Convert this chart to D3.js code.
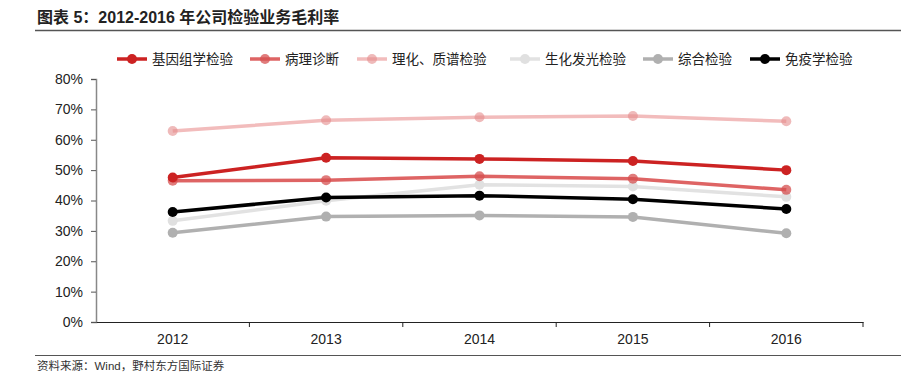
<!DOCTYPE html>
<html>
<head>
<meta charset="utf-8">
<script src="https://cdn.jsdelivr.net/npm/d3@7"></script>
<style>
  body { margin: 0; background: #fff; }
  text { font-family: "Liberation Sans", Arial, "Noto Sans CJK SC", sans-serif; }
  .cjk { font-family: "Noto Sans CJK SC", sans-serif; }
</style>
</head>
<body>
<svg id="chart" width="901" height="374"></svg>
<script>
// données
const years = ["2012", "2013", "2014", "2015", "2016"];
const jiyinzu = [0.476, 0.541, 0.537, 0.530, 0.500];
const bingli = [0.465, 0.467, 0.480, 0.472, 0.435];
const lihua = [0.629, 0.664, 0.674, 0.678, 0.661];
const shenghua = [0.333, 0.399, 0.452, 0.446, 0.412];
const zonghe = [0.294, 0.347, 0.351, 0.346, 0.292];
const mianyi = [0.362, 0.410, 0.416, 0.404, 0.372];
const yTicks = [0, 0.1, 0.2, 0.3, 0.4, 0.5, 0.6, 0.7, 0.8];

const series = [
  { name: "基因组学检验", values: jiyinzu, color: "#cc2222", dot: "#cc2222" },
  { name: "病理诊断", values: bingli, color: "#de6464", dot: "rgba(214,80,80,0.75)" },
  { name: "理化、质谱检验", values: lihua, color: "#f2bcbc", dot: "rgba(228,140,140,0.6)" },
  { name: "生化发光检验", values: shenghua, color: "#e2e2e2", dot: "#e0e0e0" },
  { name: "综合检验", values: zonghe, color: "#b0b0b0", dot: "#b0b0b0" },
  { name: "免疫学检验", values: mianyi, color: "#000000", dot: "#000000" }
];
// ordre de dessin (arrière -> avant)
const drawOrder = [3, 4, 2, 1, 5, 0];

const svg = d3.select("#chart");
const mLeft = 96, mRight = 863, mTop = 79, mBottom = 322;
const latin = "'Liberation Sans', Arial, 'Noto Sans CJK SC', sans-serif";

const x = d3.scaleBand().domain(years).range([mLeft, mRight]);
const y = d3.scaleLinear().domain([0, 0.8]).range([mBottom, mTop]);

// titre
svg.append("text").attr("x", 37).attr("y", 23)
  .attr("font-size", 16).attr("font-weight", "bold").attr("fill", "#222")
  .style("font-family", latin)
  .text("图表 5：2012-2016 年公司检验业务毛利率");
svg.append("line").attr("x1", 35).attr("x2", 901).attr("y1", 30.5).attr("y2", 30.5)
  .attr("stroke", "#555").attr("stroke-width", 1.5);

// axe y
const yAxis = svg.append("g").attr("transform", `translate(${mLeft},0)`)
  .call(d3.axisLeft(y).tickValues(yTicks).tickFormat(d3.format(".0%")).tickSize(5).tickPadding(8));
yAxis.select(".domain").attr("stroke", "#888").attr("stroke-width", 1.5);
yAxis.selectAll(".tick line").attr("stroke", "#555");
yAxis.selectAll(".tick text").attr("font-size", 14).attr("fill", "#222")
  .style("font-family", latin);

// axe x
const xAxis = svg.append("g").attr("transform", `translate(0,${mBottom})`)
  .call(d3.axisBottom(x).tickSize(0).tickPadding(12));
xAxis.select(".domain").attr("stroke", "#222").attr("stroke-width", 1.2);
xAxis.selectAll(".tick text").attr("font-size", 14).attr("fill", "#222")
  .style("font-family", latin);
xAxis.selectAll(".sep").data(years).enter().append("line")
  .attr("x1", (d, i) => x.range()[0] + x.bandwidth() * (i + 1))
  .attr("x2", (d, i) => x.range()[0] + x.bandwidth() * (i + 1))
  .attr("y1", 0).attr("y2", 5).attr("stroke", "#222");

// lignes
const line = d3.line().x((d, i) => x(years[i]) + x.bandwidth() / 2).y(d => y(d));
drawOrder.forEach(k => {
  const s = series[k];
  const g = svg.append("g");
  g.append("path").datum(s.values).attr("d", line)
    .attr("fill", "none").attr("stroke", s.color).attr("stroke-width", 3.5)
    .attr("stroke-linejoin", "round");
  g.selectAll("circle").data(s.values).enter().append("circle")
    .attr("cx", (d, i) => x(years[i]) + x.bandwidth() / 2)
    .attr("cy", d => y(d)).attr("r", 5).attr("fill", s.dot);
});

// légende
const legendX = [117, 250, 357, 510, 643, 750];
const legend = svg.append("g");
series.forEach((s, i) => {
  const g = legend.append("g").attr("transform", `translate(${legendX[i]},59)`);
  g.append("line").attr("x1", 0).attr("x2", 30).attr("stroke", s.color).attr("stroke-width", 3.5);
  g.append("circle").attr("cx", 15).attr("r", 5).attr("fill", s.dot);
  g.append("text").attr("class", "cjk").attr("x", 35).attr("y", 5)
    .attr("font-size", 13.5).attr("fill", "#222").text(s.name);
});

// source
svg.append("line").attr("x1", 35).attr("x2", 901).attr("y1", 355.5).attr("y2", 355.5)
  .attr("stroke", "#555").attr("stroke-width", 1);
svg.append("text").attr("x", 37).attr("y", 370)
  .attr("font-size", 11.5).attr("fill", "#333").style("font-family", latin)
  .text("资料来源：Wind，野村东方国际证券");
</script>
</body>
</html>
